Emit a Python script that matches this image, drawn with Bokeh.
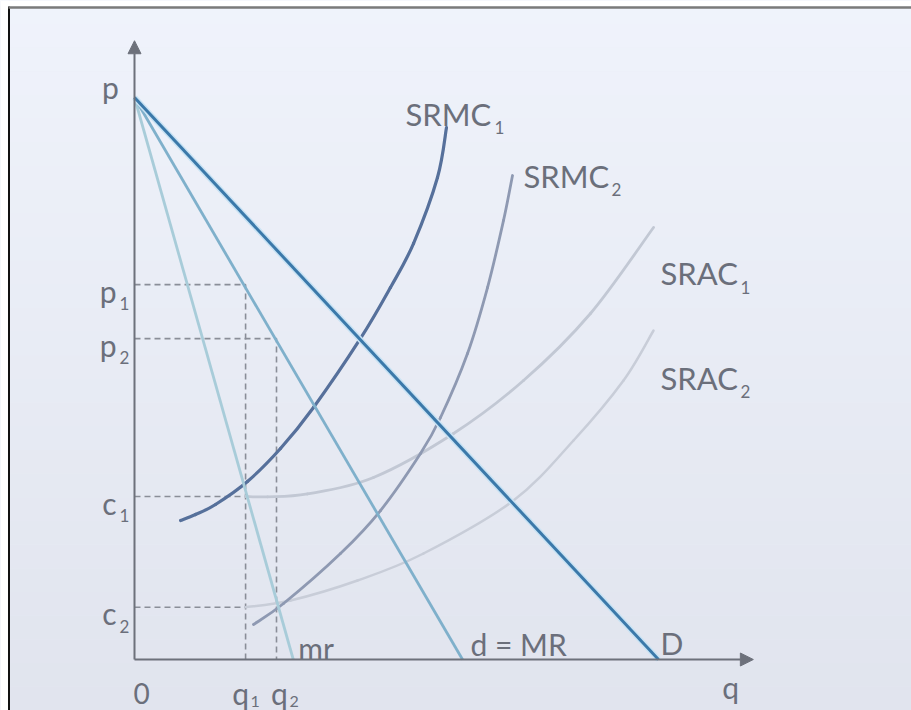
from bokeh.plotting import figure
from bokeh.models import Range1d, Arrow, NormalHead
from bokeh.embed import file_html
from bokeh.resources import INLINE
from bokeh.core.properties import value

# ---------------- data (q = quantity, p = price) ----------------
p_max = 100.0          # common price intercept of the demand / revenue lines
q_D = 100.0            # D intercept on q axis
q_dMR = 62.6           # d = MR intercept on q axis
q_mr = 30.3            # mr intercept on q axis
q1, q2 = 21.2, 27.1
p1, p2 = 66.7, 57.1
c1, c2 = 29.0, 9.3
q_axis_end = 118.1
p_axis_end = 110.1

srmc1_q = [8.78, 11.64, 15.46, 21.56, 27.86, 34.16, 43.13, 48.85, 53.24, 57.82, 59.54]
srmc1_p = [24.73, 25.80, 27.58, 31.67, 37.54, 44.84, 57.12, 66.19, 74.02, 85.77, 94.66]

srmc2_q = [22.71, 28.44, 39.31, 46.95, 54.58, 58.40, 63.55, 67.37, 70.42, 72.14]
srmc2_p = [6.23, 9.96, 18.86, 26.51, 36.65, 43.06, 54.45, 66.19, 78.11, 86.12]

srac1_q = [21.18, 25.38, 33.02, 45.61, 60.88, 74.24, 87.02, 99.05]
srac1_p = [29.00, 28.95, 29.45, 32.38, 40.21, 49.64, 61.57, 76.87]

srac2_q = [21.18, 29.77, 42.56, 55.15, 72.33, 83.78, 93.32, 99.05]
srac2_p = [9.30, 10.50, 14.06, 18.86, 28.29, 38.97, 49.64, 58.54]

# ---------------- layout ----------------
W, H = 911, 710
PX, PY = 5.24, 5.62      # pixels per data unit
OX, OY = 134, 659        # origin in figure pixels (from left / from top)

def dx(px):
    return px / PX

def dy(px):
    return px / PY

x0, x1 = -OX / PX, (W - OX) / PX
y0, y1 = -(H - OY) / PY, OY / PY

p = figure(width=W, height=H,
           x_range=Range1d(x0, x1), y_range=Range1d(y0, y1),
           output_backend="svg", toolbar_location=None,
           x_axis_location=None, y_axis_location=None,
           min_border=0)
p.grid.visible = False
p.outline_line_color = None
p.background_fill_color = "#e9edf5"
p.border_fill_color = "#ffffff"

# background gradient (top light, bottom slightly darker)
n = 30
top_c = (239, 243, 251)
bot_c = (225, 228, 238)
bands_b, bands_t, cols = [], [], []
for i in range(n):
    t = i / (n - 1)
    b = y1 - (i + 1) * (y1 - y0) / n
    tp = y1 - i * (y1 - y0) / n
    c = tuple(int(round(top_c[k] + (bot_c[k] - top_c[k]) * t)) for k in range(3))
    bands_b.append(b)
    bands_t.append(tp + 0.05)
    cols.append("#%02x%02x%02x" % c)
p.quad(left=x0, right=x1, bottom=bands_b, top=bands_t, fill_color=cols, line_color=None)

# white page margin and frame borders of the original picture
p.quad(left=x0, right=x0 + dx(8), bottom=y0, top=y1, fill_color="white", line_color=None)
p.quad(left=x0, right=x1, bottom=y1 - dy(6), top=y1, fill_color="white", line_color=None)
p.line([x0 + dx(8.5), x0 + dx(8.5)], [y0, y1 - dy(6)], line_color="#111111", line_width=2)
p.line([x0 + dx(8), x1], [y1 - dy(7), y1 - dy(7)], line_color="#7a7a7a", line_width=2.5)

axis_c = "#6d717b"
dash_c = "#8a8e98"
text_c = "#6b6f7b"
FONT = value("Lato")

# dashed guide lines
p.line([0, q1, q1], [p1, p1, 0], line_color=dash_c, line_width=1.6, line_dash="6 4")
p.line([0, q2, q2], [p2, p2, 0], line_color=dash_c, line_width=1.6, line_dash="6 4")
p.line([0, q1], [c1, c1], line_color=dash_c, line_width=1.6, line_dash="6 4")
p.line([0, q1], [c2, c2], line_color=dash_c, line_width=1.6, line_dash="6 4")


def smooth(qs, ps, color, width):
    """Draw a smooth curve through the read points with Bokeh's bezier glyph."""
    pts = list(zip(qs, ps))
    n_ = len(pts)
    X0, Y0, X1, Y1, CX0, CY0, CX1, CY1 = [], [], [], [], [], [], [], []
    for i in range(n_ - 1):
        a = pts[i - 1] if i > 0 else pts[i]
        b = pts[i]
        c = pts[i + 1]
        d = pts[i + 2] if i + 2 < n_ else pts[i + 1]
        X0.append(b[0]); Y0.append(b[1])
        X1.append(c[0]); Y1.append(c[1])
        CX0.append(b[0] + (c[0] - a[0]) / 6); CY0.append(b[1] + (c[1] - a[1]) / 6)
        CX1.append(c[0] - (d[0] - b[0]) / 6); CY1.append(c[1] - (d[1] - b[1]) / 6)
    p.bezier(x0=X0, y0=Y0, x1=X1, y1=Y1, cx0=CX0, cy0=CY0, cx1=CX1, cy1=CY1,
             line_color=color, line_width=width, line_cap="round")


# cost curves
smooth(srac2_q, srac2_p, "#c8cdd8", 2.5)
smooth(srac1_q, srac1_p, "#c2c8d4", 2.8)
smooth(srmc2_q, srmc2_p, "#8e99b2", 2.8)
smooth(srmc1_q, srmc1_p, "#56709b", 3.2)

# revenue / demand lines
p.line([0, q_mr], [p_max, 0], line_color="#a8ccd9", line_width=2.8)
p.line([0, q_dMR], [p_max, 0], line_color="#7fb0cb", line_width=2.8)
p.line([0, q_D], [p_max, 0], line_color="#c9e3f4", line_width=6)
p.line([0, q_D], [p_max, 0], line_color="#3b79aa", line_width=3)

# axes with arrow heads
p.add_layout(Arrow(end=NormalHead(size=13, fill_color=axis_c, line_color=axis_c),
                   x_start=0, y_start=0, x_end=q_axis_end, y_end=0,
                   line_color=axis_c, line_width=2))
p.add_layout(Arrow(end=NormalHead(size=13, fill_color=axis_c, line_color=axis_c),
                   x_start=0, y_start=0, x_end=0, y_end=p_axis_end,
                   line_color=axis_c, line_width=2))


def lab(x, y, s, size=30, align="left"):
    p.text(x=[x], y=[y], text=[s], text_font=FONT, text_font_size=f"{size}px",
           text_color=text_c, text_align=align, text_baseline="alphabetic")


# axis names
lab(dx(-24), p_max + dy(11), "p", 30, "center")
lab(q_axis_end - dx(31), -dy(27), "q", 30, "left")
lab(dx(7), -dy(34), "0", 28, "center")

# price / cost tick labels
for val, main, sub in [(p1, "p", "1"), (p2, "p", "2"), (c1, "c", "1"), (c2, "c", "2")]:
    lab(-dx(18), val - dy(6), main, 30, "right")
    lab(-dx(15), val - dy(19), sub, 17, "left")

# quantity tick labels
lab(q1 - dx(5), -dy(33), "q", 30, "center")
lab(q1 + dx(5), -dy(42), "1", 16, "left")
lab(q2 + dx(3), -dy(33), "q", 30, "center")
lab(q2 + dx(13), -dy(42), "2", 16, "left")

# line labels
lab(q_mr + dx(5), dy(12), "mr", 30, "left")
lab(q_dMR + dx(8), dy(16), "d = MR", 30, "left")
lab(q_D + dx(2), dy(17), "D", 30, "left")

# curve labels
lab(srmc1_q[-1] - dx(41), srmc1_p[-1] + dy(14), "SRMC", 31, "left")
lab(srmc1_q[-1] + dx(48), srmc1_p[-1], "1", 17, "left")
lab(srmc2_q[-1] + dx(11), srmc2_p[-1], "SRMC", 31, "left")
lab(srmc2_q[-1] + dx(99), srmc2_p[-1] - dy(14), "2", 17, "left")
lab(srac1_q[-1] + dx(7), srac1_p[-1] - dy(46), "SRAC", 31, "left")
lab(srac1_q[-1] + dx(87), srac1_p[-1] - dy(60), "1", 17, "left")
lab(srac2_q[-1] + dx(7), srac2_p[-1] - dy(47), "SRAC", 31, "left")
lab(srac2_q[-1] + dx(87), srac2_p[-1] - dy(61), "2", 17, "left")

open("out.html", "w").write(file_html(p, INLINE))
